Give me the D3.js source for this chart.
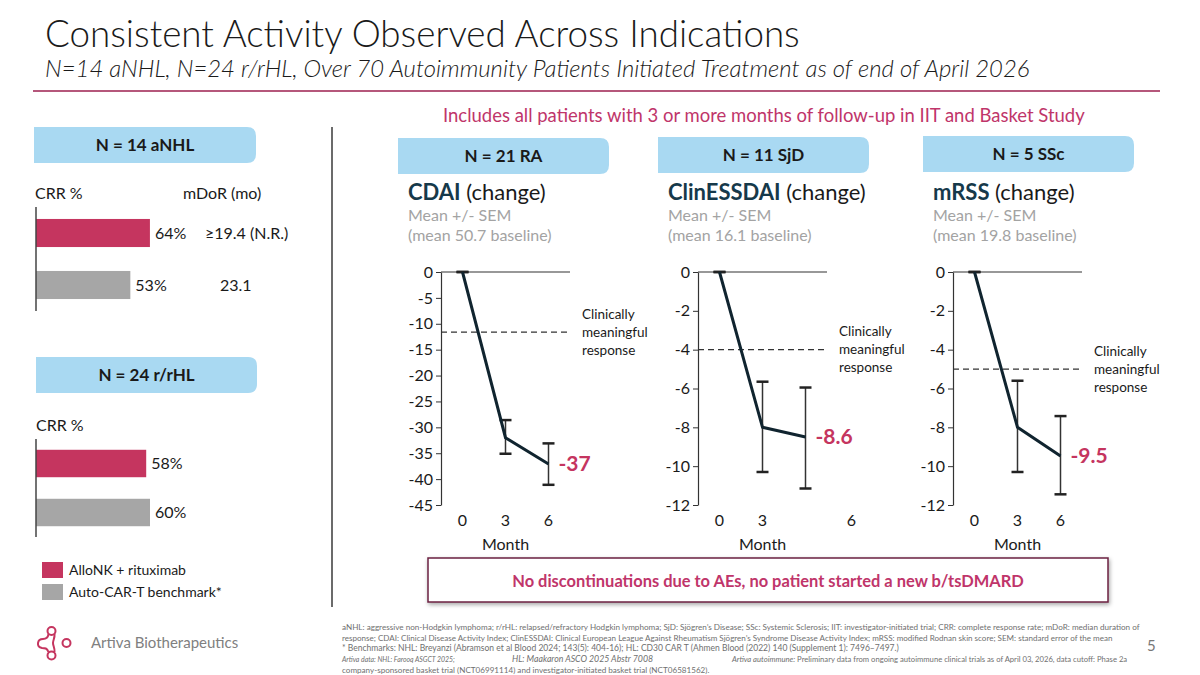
<!DOCTYPE html>
<html>
<head>
<meta charset="utf-8">
<script src="https://cdn.jsdelivr.net/npm/d3@7"></script>
<style>
  body { margin: 0; background: #fff; }
  svg { font-family: Lato, "Open Sans", sans-serif; }
</style>
</head>
<body>
<svg id="chart" width="1200" height="675"></svg>
<script>
// ---- data ----
const nhlGroups = ["AlloNK + rituximab", "Auto-CAR-T benchmark*"];
const nhlCrr = [64, 53];
const nhlDor = ["≥19.4 (N.R.)", "23.1"];
const hlCrr = [58, 60];

const months = [0, 3, 6];
const monthLabels = ["0", "3", "6"];

// CDAI (RA)
const raMean = [0, -32.0, -37.1];
const raHigh = [0, -28.6, -33.1];
const raLow = [0, -35.1, -41.1];
const raYTicks = [0, -5, -10, -15, -20, -25, -30, -35, -40, -45];
const raXTicks = [0, 3, 6];
const raCmr = -11.6;

// ClinESSDAI (SjD)
const sjdMean = [0, -8.0, -8.5];
const sjdHigh = [0, -5.65, -5.95];
const sjdLow = [0, -10.3, -11.15];
const sjdXTicks = [0, 3, 9.2];   // the "6" label sits off to the right on the slide
const sjdCmr = -4;

// mRSS (SSc)
const sscMean = [0, -8.0, -9.47];
const sscHigh = [0, -5.6, -7.42];
const sscLow = [0, -10.3, -11.45];
const sscXTicks = [0, 3, 6];
const sscCmr = -5;

const aiYTicks = [0, -2, -4, -6, -8, -10, -12];
const endLabels = ["-37", "-8.6", "-9.5"];

const footLines = [
  "aNHL: aggressive non-Hodgkin lymphoma; r/rHL: relapsed/refractory Hodgkin lymphoma; SjD: Sjögren’s Disease; SSc: Systemic Sclerosis; IIT: investigator-initiated trial; CRR: complete response rate; mDoR: median duration of",
  "response; CDAI: Clinical Disease Activity Index; ClinESSDAI: Clinical European League Against Rheumatism Sjögren’s Syndrome Disease Activity Index; mRSS: modified Rodnan skin score; SEM: standard error of the mean",
  "* Benchmarks: NHL: Breyanzi (Abramson et al Blood 2024; 143(5): 404-16);  HL: CD30 CAR T (Ahmen Blood (2022) 140 (Supplement 1): 7496–7497.)",
  "company-sponsored basket trial (NCT06991114) and investigator-initiated basket trial (NCT06581562)."
];

// ---- style ----
const magenta = "#c5355f";
const grayBar = "#a6a6a6";
const tabBlue = "#a9d9f2";
const ink = "#1a1a1a";
const navy = "#10242f";
const pinkText = "#c0356a";

const svg = d3.select("#chart");

// shrink/grow a text's font size so it spans the given width
function fitWidth(sel, width) {
  const fs = +sel.attr("font-size") || 9;
  const w = sel.node().getComputedTextLength();
  if (w > 0) sel.attr("font-size", (fs * width / w).toFixed(2));
  return sel;
}

// header
fitWidth(svg.append("text")
  .attr("x", 45).attr("y", 47)
  .attr("font-size", 38).attr("font-weight", 300).attr("fill", ink)
  .text("Consistent Activity Observed Across Indications"), 755);

fitWidth(svg.append("text")
  .attr("x", 45).attr("y", 77)
  .attr("font-size", 21).attr("font-style", "italic").attr("font-weight", 300).attr("fill", ink)
  .text("N=14 aNHL, N=24 r/rHL, Over 70 Autoimmunity Patients Initiated Treatment as of end of April 2026"), 985);

svg.append("line")
  .attr("x1", 33).attr("x2", 1160).attr("y1", 91).attr("y2", 91)
  .attr("stroke", "#b5577b").attr("stroke-width", 2);

fitWidth(svg.append("text")
  .attr("x", 443).attr("y", 122)
  .attr("font-size", 18).attr("fill", pinkText)
  .text("Includes all patients with 3 or more months of follow-up in IIT and Basket Study"), 642);

// divider between lymphoma and autoimmune
svg.append("line")
  .attr("x1", 332).attr("x2", 332).attr("y1", 127).attr("y2", 607)
  .attr("stroke", "#3a3a3a").attr("stroke-width", 1.5);

function tab(x, y, w, h, label) {
  const r = 9;
  svg.append("path")
    .attr("d", `M${x},${y}H${x + w - r}Q${x + w},${y} ${x + w},${y + r}V${y + h - r}Q${x + w},${y + h} ${x + w - r},${y + h}H${x}Z`)
    .attr("fill", tabBlue);
  svg.append("text")
    .attr("x", x + w / 2).attr("y", y + h / 2).attr("dy", "0.35em")
    .attr("text-anchor", "middle")
    .attr("font-size", 17).attr("font-weight", 700).attr("fill", ink)
    .text(label);
}

// ---- lymphoma bar panels ----
function barPanel(values, yRange, pxPerPct, inner, outer) {
  const yb = d3.scaleBand().domain(nhlGroups).range(yRange).paddingInner(inner).paddingOuter(outer);
  const xb = d3.scaleLinear().domain([0, 100]).range([36, 36 + 100 * pxPerPct]);
  const g = svg.append("g");
  g.selectAll("rect").data(values).join("rect")
    .attr("x", xb(0)).attr("y", (d, i) => yb(nhlGroups[i]))
    .attr("width", d => xb(d) - xb(0)).attr("height", yb.bandwidth())
    .attr("fill", (d, i) => i === 0 ? magenta : grayBar);
  g.selectAll("text.val").data(values).join("text").attr("class", "val")
    .attr("x", d => xb(d) + 5).attr("y", (d, i) => yb(nhlGroups[i]) + yb.bandwidth() / 2)
    .attr("dy", "0.35em").attr("font-size", 16).attr("fill", ink)
    .text(d => d + "%");
  g.append("line")
    .attr("x1", 36).attr("x2", 36).attr("y1", yRange[0]).attr("y2", yRange[1])
    .attr("stroke", "#444").attr("stroke-width", 1.5);
  return yb;
}

tab(34, 127, 222, 36, "N = 14 aNHL");
svg.append("text").attr("x", 35).attr("y", 193).attr("dy", "0.35em")
  .attr("font-size", 16).attr("fill", ink).text("CRR %");
svg.append("text").attr("x", 183).attr("y", 193).attr("dy", "0.35em")
  .attr("font-size", 16).attr("fill", ink).text("mDoR (mo)");
const nhlY = barPanel(nhlCrr, [207, 311], 1.78, 0.46, 0.23);
const dorX = [205, 220];
svg.selectAll("text.dor").data(nhlDor).join("text").attr("class", "dor")
  .attr("x", (d, i) => dorX[i]).attr("y", (d, i) => nhlY(nhlGroups[i]) + nhlY.bandwidth() / 2)
  .attr("dy", "0.35em").attr("font-size", 16).attr("fill", ink)
  .text(d => d);

tab(36, 357, 221, 36, "N = 24 r/rHL");
svg.append("text").attr("x", 36).attr("y", 425).attr("dy", "0.35em")
  .attr("font-size", 16).attr("fill", ink).text("CRR %");
barPanel(hlCrr, [439, 537], 1.9, 0.44, 0.22);

// legend
const legend = svg.append("g").selectAll("g").data(nhlGroups).join("g")
  .attr("transform", (d, i) => `translate(42,${562 + i * 22})`);
legend.append("rect").attr("width", 21).attr("height", 16)
  .attr("fill", (d, i) => i === 0 ? magenta : grayBar);
legend.append("text").attr("x", 27).attr("y", 8).attr("dy", "0.35em")
  .attr("font-size", 14).attr("fill", ink).text(d => d);

// ---- autoimmune line panels ----
const panels = [
  { tab: "N = 21 RA", tabX: 398, tabY: 138, metric: "CDAI", base: "(mean 50.7 baseline)",
    axisX: 441, yMin: -45, yTicks: raYTicks, xTicks: raXTicks,
    mean: raMean, hi: raHigh, lo: raLow, cmr: raCmr, end: endLabels[0] },
  { tab: "N = 11 SjD", tabX: 658, tabY: 137, metric: "ClinESSDAI", base: "(mean 16.1 baseline)",
    axisX: 698, yMin: -12, yTicks: aiYTicks, xTicks: sjdXTicks,
    mean: sjdMean, hi: sjdHigh, lo: sjdLow, cmr: sjdCmr, end: endLabels[1] },
  { tab: "N = 5 SSc", tabX: 923, tabY: 136, metric: "mRSS", base: "(mean 19.8 baseline)",
    axisX: 953, yMin: -12, yTicks: aiYTicks, xTicks: sscXTicks,
    mean: sscMean, hi: sscHigh, lo: sscLow, cmr: sscCmr, end: endLabels[2] }
];

panels.forEach(p => {
  tab(p.tabX, p.tabY, 211, 36, p.tab);

  const head = svg.append("text").attr("x", p.tabX + 10).attr("y", 200)
    .attr("font-size", 22).attr("fill", ink);
  head.append("tspan").attr("font-weight", 700).attr("fill", "#16394a").text(p.metric);
  head.append("tspan").text(" (change)");
  svg.append("text").attr("x", p.tabX + 10).attr("y", 221)
    .attr("font-size", 16).attr("fill", "#a3a3a3").text("Mean +/- SEM");
  svg.append("text").attr("x", p.tabX + 10).attr("y", 241)
    .attr("font-size", 16).attr("fill", "#a3a3a3").text(p.base);

  const y = d3.scaleLinear().domain([p.yMin, 0]).range([505, 272]);
  const x = d3.scaleLinear().domain([-1.5, 7.5]).range([p.axisX, p.axisX + 129]);

  // zero line
  svg.append("line")
    .attr("x1", x(-1.5)).attr("x2", x(7.5)).attr("y1", y(0)).attr("y2", y(0))
    .attr("stroke", "#333").attr("stroke-width", 1.2);

  // y axis
  const ax = svg.append("g").attr("transform", `translate(${p.axisX},0)`)
    .call(d3.axisLeft(y).tickValues(p.yTicks).tickSize(5).tickSizeOuter(0).tickPadding(3)
      .tickFormat(d => String(d)));
  ax.attr("font-family", null).attr("font-size", null);
  ax.select(".domain").attr("stroke", "#333").attr("stroke-width", 1.2);
  ax.selectAll(".tick line").attr("stroke", "#333");
  ax.selectAll(".tick text").attr("font-size", 16).attr("fill", ink);

  // x labels
  svg.selectAll(null).data(p.xTicks).join("text")
    .attr("x", d => x(d)).attr("y", 520).attr("dy", "0.35em")
    .attr("text-anchor", "middle").attr("font-size", 16).attr("fill", ink)
    .text((d, i) => monthLabels[i]);
  svg.append("text").attr("x", x(3)).attr("y", 544).attr("dy", "0.35em")
    .attr("text-anchor", "middle").attr("font-size", 16).attr("fill", ink).text("Month");

  // clinically meaningful threshold
  svg.append("line")
    .attr("x1", x(-1.5)).attr("x2", x(7.5) - 2).attr("y1", y(p.cmr)).attr("y2", y(p.cmr))
    .attr("stroke", "#333").attr("stroke-width", 1.2).attr("stroke-dasharray", "6,4");
  svg.selectAll(null).data(["Clinically", "meaningful", "response"]).join("text")
    .attr("x", p.axisX + 141).attr("y", (d, i) => y(p.cmr) + (i - 1) * 18).attr("dy", "0.35em")
    .attr("font-size", 13.5).attr("fill", ink).text(d => d);

  // error bars
  const eb = svg.append("g").selectAll("g").data(months).join("g");
  eb.append("line")
    .attr("x1", d => x(d)).attr("x2", d => x(d))
    .attr("y1", (d, i) => y(p.hi[i])).attr("y2", (d, i) => y(p.lo[i]))
    .attr("stroke", "#333").attr("stroke-width", 1.5);
  ["hi", "lo"].forEach(k => {
    eb.append("line")
      .attr("x1", d => x(d) - 6).attr("x2", d => x(d) + 6)
      .attr("y1", (d, i) => y(p[k][i])).attr("y2", (d, i) => y(p[k][i]))
      .attr("stroke", "#222").attr("stroke-width", 2.5);
  });

  // mean line
  svg.append("path").datum(months)
    .attr("d", d3.line().x(d => x(d)).y((d, i) => y(p.mean[i])))
    .attr("fill", "none").attr("stroke", navy).attr("stroke-width", 3);

  svg.append("text")
    .attr("x", x(6) + 10).attr("y", y(p.mean[2])).attr("dy", "0.35em")
    .attr("font-size", 21).attr("font-weight", 700).attr("fill", magenta)
    .text(p.end);
});

// ---- callout box ----
const defs = svg.append("defs");
const f = defs.append("filter").attr("id", "shadow").attr("x", "-5%").attr("y", "-30%")
  .attr("width", "110%").attr("height", "170%");
f.append("feDropShadow").attr("dx", 1).attr("dy", 2).attr("stdDeviation", 2)
  .attr("flood-color", "#000").attr("flood-opacity", 0.35);
svg.append("rect")
  .attr("x", 428).attr("y", 558).attr("width", 680).attr("height", 44)
  .attr("fill", "#fff").attr("stroke", "#6b2140").attr("stroke-width", 1.5)
  .attr("filter", "url(#shadow)");
fitWidth(svg.append("text")
  .attr("x", 768).attr("y", 581).attr("dy", "0.35em").attr("text-anchor", "middle")
  .attr("font-size", 18).attr("font-weight", 700).attr("fill", pinkText)
  .text("No discontinuations due to AEs, no patient started a new b/tsDMARD"), 512);

// ---- footer ----
const foot = svg.append("g").attr("fill", "#6f6f6f");
const footY = i => 630 + i * 10.7;
const footWidths = [798, 772, 558];
footLines.slice(0, 3).forEach((line, i) => {
  fitWidth(foot.append("text").attr("x", 342).attr("y", footY(i)).attr("font-size", 9).text(line), footWidths[i]);
});
fitWidth(foot.append("text").attr("x", 342).attr("y", footY(3)).attr("font-size", 9)
  .attr("font-style", "italic").text("Artiva data: NHL: Farooq ASGCT 2025;"), 113);
fitWidth(foot.append("text").attr("x", 512).attr("y", footY(3)).attr("font-size", 9)
  .attr("font-style", "italic").text("HL: Maakaron ASCO 2025 Abstr 7008"), 141);
const l4 = foot.append("text").attr("x", 732).attr("y", footY(3)).attr("font-size", 9);
l4.append("tspan").attr("font-style", "italic").text("Artiva autoimmune:");
l4.append("tspan").text(" Preliminary data from ongoing autoimmune clinical trials as of April 03, 2026, data cutoff: Phase 2a");
fitWidth(l4, 396);
fitWidth(foot.append("text").attr("x", 342).attr("y", footY(4)).attr("font-size", 9)
  .text(footLines[3]), 368);

svg.append("text").attr("x", 1147).attr("y", 651)
  .attr("font-size", 15).attr("fill", "#777").text("5");

// ---- logo ----
const logo = svg.append("g").attr("fill", "none").attr("stroke", magenta).attr("stroke-width", 2);
[[51.5, 631], [66.5, 643], [51.5, 655.5]].forEach(c => {
  logo.append("circle").attr("cx", c[0]).attr("cy", c[1]).attr("r", 4);
});
logo.append("path")
  .attr("d", "M48.5,634 C48,638 46,639 43,639 C37,639 36,647 42,648 C45,648 47,648 48.5,652 M54.5,634 C55,638 53,640 53,643 C53,646 55,648 54.5,652");
svg.append("text").attr("x", 91).attr("y", 643).attr("dy", "0.35em")
  .attr("font-size", 15).attr("fill", "#808080").text("Artiva Biotherapeutics");
</script>
</body>
</html>
